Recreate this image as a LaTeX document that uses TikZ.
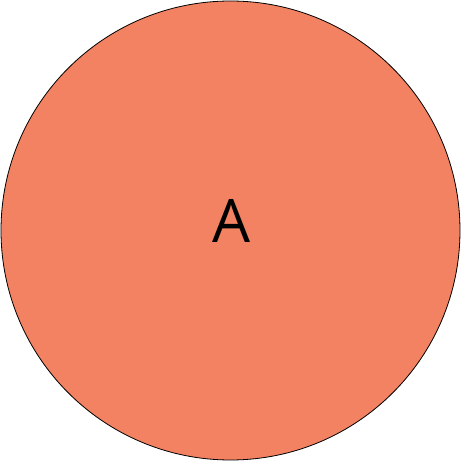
\documentclass[tikz,border=0pt]{standalone}
\usepackage{fontspec}
\setmainfont{Open Sans}
\usepackage{xcolor}
\definecolor{setfill}{RGB}{242, 130, 97}
\usetikzlibrary{positioning}

\begin{document}
\begin{tikzpicture}[
  x=1pt, y=1pt,
  setcircle/.style={circle, draw=black, line width=0.8pt, fill=setfill, minimum size=459pt, inner sep=0pt},
  setlabel/.style={inner sep=0pt, font=\fontsize{60}{60}\selectfont}
]
  \useasboundingbox (0,0) rectangle (461,461);
  % Set
  \node[setcircle] (setA) at (230.5,230.5) {};
  \node[setlabel] (labelA) at (231,240.5) {A};
\end{tikzpicture}
\end{document}
